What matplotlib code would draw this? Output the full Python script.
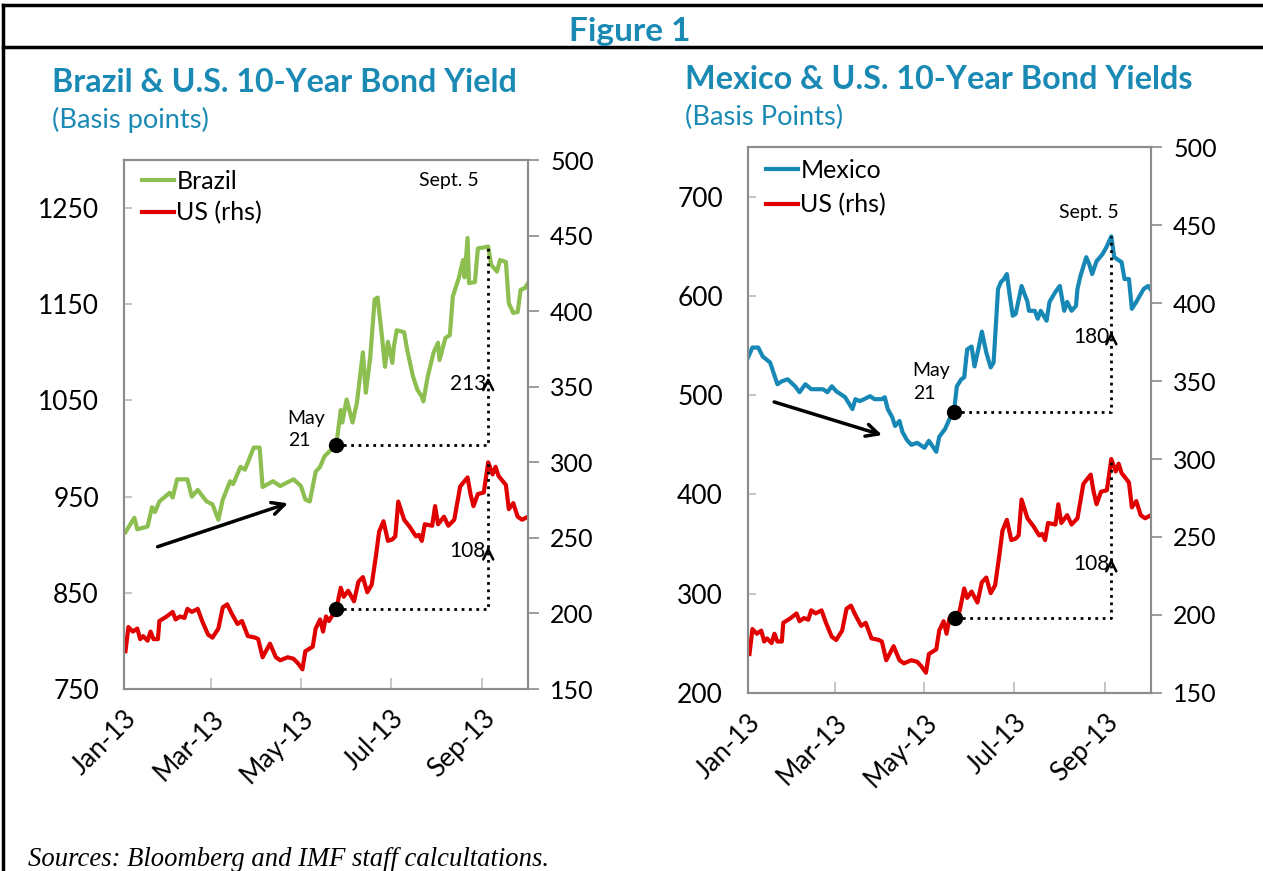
import numpy as np
import pandas as pd
import matplotlib
matplotlib.use('Agg')
import matplotlib.pyplot as plt
import matplotlib.dates as mdates
from matplotlib.lines import Line2D

plt.rcParams['font.family'] = ['Lato', 'DejaVu Sans']

# days since 1 Jan 2013 and yields (basis points)
brazil_days = [1, 7, 9, 16, 19, 21, 24, 31, 33, 36, 43, 46, 50, 56, 60, 64, 67, 72, 74, 79,
               82, 88, 92, 94, 101, 106, 111, 115, 120, 123, 126, 130, 133, 136, 144, 147, 148, 151, 155, 158,
               162, 164, 167, 170, 172, 175, 177, 179, 182, 183, 185, 190, 192, 196, 199, 202, 203, 206, 210, 213,
               214, 218, 221, 223, 227, 230, 231, 233, 234, 238, 240, 247, 249, 253, 255, 259, 261, 264, 267, 269,
               272, 274]
brazil_bp = [913, 928, 916, 919, 939, 934, 945, 954, 949, 968, 968, 950, 957, 945, 942, 926, 947, 966, 963, 981,
             978, 1001, 1001, 960, 966, 961, 965, 968, 961, 947, 945, 976, 981, 992, 1004, 1040, 1027, 1051, 1027, 1048,
             1100, 1058, 1095, 1155, 1157, 1116, 1085, 1111, 1089, 1106, 1123, 1121, 1103, 1075, 1061, 1054, 1049, 1075, 1100, 1110,
             1092, 1115, 1118, 1158, 1177, 1196, 1178, 1219, 1172, 1173, 1208, 1210, 1191, 1184, 1196, 1194, 1151, 1141, 1142, 1165,
             1167, 1172]

us_days = [1, 3, 6, 9, 11, 13, 16, 18, 20, 23, 24, 29, 33, 35, 38, 41, 43, 46, 50, 53,
           57, 60, 64, 67, 70, 73, 77, 80, 84, 89, 91, 94, 99, 103, 106, 111, 115, 118, 121, 123,
           128, 130, 133, 135, 137, 139, 144, 147, 149, 152, 156, 159, 162, 165, 168, 171, 173, 176, 179, 182,
           184, 186, 190, 194, 198, 200, 202, 204, 209, 211, 213, 217, 220, 224, 226, 228, 233, 235, 237, 240,
           244, 247, 250, 252, 254, 259, 261, 264, 267, 270, 274]
us_bp = [175, 191, 188, 190, 183, 185, 182, 188, 183, 183, 195, 198, 201, 196, 198, 197, 203, 201, 203, 195,
         186, 184, 190, 204, 206, 200, 193, 195, 185, 184, 183, 171, 180, 171, 169, 171, 170, 167, 163, 175,
         178, 190, 196, 188, 198, 195, 203, 217, 211, 215, 208, 221, 224, 214, 219, 239, 254, 261, 248, 249,
         251, 274, 262, 257, 251, 252, 248, 259, 258, 271, 259, 264, 258, 262, 273, 284, 290, 279, 271, 279,
         280, 300, 292, 297, 291, 285, 269, 273, 264, 262, 264]

mexico_days = [0, 3, 7, 10, 15, 20, 23, 27, 32, 35, 39, 43, 51, 54, 57, 60, 66, 71, 73, 76,
               79, 83, 86, 91, 93, 95, 98, 100, 103, 105, 108, 111, 115, 120, 123, 128, 130, 134, 137, 140,
               142, 145, 147, 149, 152, 154, 157, 159, 162, 165, 167, 170, 172, 174, 176, 178, 180, 182, 186, 188,
               190, 191, 195, 197, 199, 203, 205, 209, 212, 215, 217, 220, 223, 224, 226, 230, 232, 234, 237, 241,
               244, 247, 249, 254, 256, 259, 261, 264, 269, 272, 275]
mexico_bp = [538, 548, 548, 539, 533, 511, 514, 516, 509, 503, 511, 506, 506, 503, 509, 504, 498, 486, 496, 494,
             496, 499, 496, 496, 498, 486, 478, 469, 474, 463, 455, 450, 452, 447, 454, 443, 458, 466, 476, 483,
             509, 516, 518, 546, 549, 529, 549, 564, 543, 528, 533, 607, 614, 617, 622, 600, 580, 582, 610, 602,
             594, 585, 585, 577, 585, 575, 594, 604, 610, 585, 594, 585, 590, 607, 620, 639, 632, 622, 635, 642,
             650, 660, 639, 634, 617, 617, 587, 594, 607, 610, 604]

tick_dates = ['2013-01-01', '2013-03-01', '2013-05-01', '2013-07-01', '2013-09-01']
tick_labels = ['Jan-13', 'Mar-13', 'May-13', 'Jul-13', 'Sep-13']

GREEN = '#8cbe50'
RED = '#e00000'
BLUE = '#1788b6'
TEAL = '#1a8ab4'
GRAY = '#8c8c8c'

W, H = 1263, 871
t0 = mdates.date2num(pd.Timestamp('2013-01-01'))


def dx(days):
    return t0 + np.asarray(days, dtype=float)


def px_axes(fig, x0, y0, x1, y1):
    return fig.add_axes([x0 / W, 1 - y1 / H, (x1 - x0) / W, (y1 - y0) / H])


def px(x, y):
    return x / W, 1 - y / H


def style_axes(ax, ax2, lhs_lim, lhs_ticks):
    ax.set_xlim(dx(0), dx(274))
    ax.set_ylim(*lhs_lim)
    ax.set_yticks(lhs_ticks)
    ax2.set_ylim(150, 500)
    ax2.set_yticks(range(150, 501, 50))
    ax.set_xticks(mdates.date2num(pd.to_datetime(tick_dates)))
    ax.set_xticklabels(tick_labels, rotation=45, ha='right', va='top', rotation_mode='anchor')
    for a in (ax, ax2):
        for s in a.spines.values():
            s.set_color(GRAY)
            s.set_linewidth(1.5)
    ax.tick_params(axis='x', direction='in', length=8, color='#bbbbbb', width=1.2,
                   labelsize=19, pad=12)
    ax.tick_params(axis='y', direction='in', length=6, color='#bbbbbb', width=1.2,
                   labelsize=19, pad=18)
    ax2.tick_params(axis='y', direction='out', length=8, color=GRAY, width=1.2,
                    labelsize=18, pad=8)


def move_marker(ax, x_dot, x_peak, y_dot, y_peak, y_arrow, label):
    ax.plot([x_dot], [y_dot], 'o', color='black', ms=10, zorder=5)
    ax.plot([x_dot, x_peak, x_peak], [y_dot, y_dot, y_peak], ':', color='black', lw=2, zorder=4)
    span = y_peak - y_dot
    ax.annotate('', xy=(x_peak, y_arrow), xytext=(x_peak, y_arrow - span * 0.06),
                arrowprops=dict(arrowstyle='->', lw=1.8, color='black', mutation_scale=18))
    ax.text(x_peak - 1.5, y_arrow - span * 0.05, label, ha='right', va='center', fontsize=15)


fig = plt.figure(figsize=(W / 100, H / 100), dpi=100)

# frame around the figure
for xs, ys in [([3, 3], [5, H]), ([3, W], [5, 5]), ([3, W], [47, 47])]:
    fig.add_artist(Line2D([x / W for x in xs], [1 - y / H for y in ys], color='black',
                          lw=2.5, transform=fig.transFigure))

fig.text(*px(630, 31), 'Figure 1', ha='center', va='center', fontsize=24,
         fontweight='bold', color=TEAL)

# ---- Brazil ----
ax = px_axes(fig, 124, 160, 528, 689)
ax2 = ax.twinx()
ax.plot(dx(brazil_days), brazil_bp, color=GREEN, lw=3)
ax2.plot(dx(us_days), us_bp, color=RED, lw=3)
style_axes(ax, ax2, (750, 1300), range(750, 1251, 100))

b_dot, b_peak = np.interp(144, brazil_days, brazil_bp), np.interp(247, brazil_days, brazil_bp)
move_marker(ax, dx(144), dx(247), b_dot, b_peak, 1077, '213')
u_dot, u_peak = np.interp(144, us_days, us_bp), np.interp(247, us_days, us_bp)
move_marker(ax2, dx(144), dx(247), u_dot, u_peak, 246, '108')
ax.text(dx(111), 1020, 'May\n21', ha='left', va='center', fontsize=14, linespacing=1.4)
ax.text(dx(220), 1279, 'Sept. 5', ha='center', va='center', fontsize=14)
ax.annotate('', xy=(dx(113), 944), xytext=(dx(21), 897),
            arrowprops=dict(arrowstyle='->', lw=2.5, color='black', mutation_scale=22))
ax2.legend([Line2D([], [], color=GREEN, lw=3), Line2D([], [], color=RED, lw=3)],
           ['Brazil', 'US (rhs)'], loc='upper left', bbox_to_anchor=(0.0, 1.015),
           frameon=False, fontsize=18, handlelength=1.3, handletextpad=0.1,
           labelspacing=0.35, borderaxespad=0.3)

fig.text(*px(52, 92), 'Brazil & U.S. 10-Year Bond Yield', ha='left', va='baseline',
         fontsize=23.2, fontweight='bold', color=TEAL)
fig.text(*px(52, 128), '(Basis points)', ha='left', va='baseline', fontsize=19.6, color=TEAL)

# ---- Mexico ----
bx = px_axes(fig, 748, 147, 1151, 693)
bx2 = bx.twinx()
bx.plot(dx(mexico_days), mexico_bp, color=BLUE, lw=3)
bx2.plot(dx(us_days), us_bp, color=RED, lw=3)
style_axes(bx, bx2, (200, 750), range(200, 701, 100))

m_dot, m_peak = np.interp(140, mexico_days, mexico_bp), np.interp(247, mexico_days, mexico_bp)
move_marker(bx, dx(140), dx(247), m_dot, m_peak, 567, '180')
u_dot2 = np.interp(141, us_days, us_bp)
move_marker(bx2, dx(141), dx(247), u_dot2, u_peak, 238, '108')
bx.text(dx(112), 513, 'May\n21', ha='left', va='center', fontsize=14, linespacing=1.4)
bx.text(dx(232), 684, 'Sept. 5', ha='center', va='center', fontsize=14)
bx.annotate('', xy=(dx(93), 459), xytext=(dx(16), 494),
            arrowprops=dict(arrowstyle='->', lw=2.5, color='black', mutation_scale=22))
bx2.legend([Line2D([], [], color=BLUE, lw=3), Line2D([], [], color=RED, lw=3)],
           ['Mexico', 'US (rhs)'], loc='upper left', bbox_to_anchor=(0.0, 1.01),
           frameon=False, fontsize=18, handlelength=1.3, handletextpad=0.1,
           labelspacing=0.45, borderaxespad=0.3)

fig.text(*px(685, 89), 'Mexico & U.S. 10-Year Bond Yields', ha='left', va='baseline',
         fontsize=23.3, fontweight='bold', color=TEAL)
fig.text(*px(685, 125), '(Basis Points)', ha='left', va='baseline', fontsize=19.6, color=TEAL)

fig.text(*px(28, 866), 'Sources: Bloomberg and IMF staff calcultations.', ha='left',
         va='baseline', fontsize=19.2, style='italic', family='Liberation Serif')

fig.savefig('out.png', dpi=100)
